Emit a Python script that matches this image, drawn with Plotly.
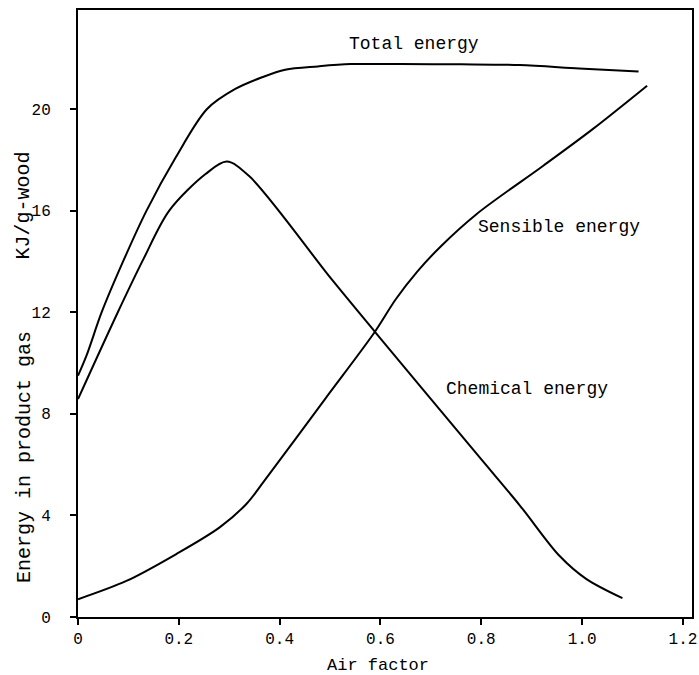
import plotly.graph_objects as go

# Data (air factor vs energy, KJ/g-wood)
total_x = [0.0, 0.017, 0.047, 0.089, 0.136, 0.194, 0.256, 0.312, 0.365, 0.411, 0.476, 0.541, 0.640, 0.760, 0.876, 0.994, 1.112]
total_y = [9.5, 10.3, 12.0, 13.98, 16.0, 18.1, 20.0, 20.79, 21.25, 21.55, 21.68, 21.77, 21.77, 21.76, 21.73, 21.6, 21.48]

chem_x = [0.0, 0.079, 0.13, 0.181, 0.253, 0.295, 0.339, 0.503, 0.589, 0.791, 0.877, 0.955, 1.008, 1.08]
chem_y = [8.58, 12.0, 14.1, 16.0, 17.44, 17.93, 17.37, 13.3, 11.23, 6.42, 4.38, 2.41, 1.5, 0.74]

sens_x = [0.0, 0.096, 0.195, 0.281, 0.334, 0.371, 0.49, 0.589, 0.63, 0.673, 0.72, 0.791, 0.923, 1.021, 1.129]
sens_y = [0.7, 1.42, 2.48, 3.53, 4.45, 5.4, 8.58, 11.23, 12.5, 13.6, 14.6, 15.87, 17.77, 19.21, 20.92]

x_ticks = [0, 0.2, 0.4, 0.6, 0.8, 1.0, 1.2]
x_ticktext = ["0", "0.2", "0.4", "0.6", "0.8", "1.0", "1.2"]
y_ticks = [0, 4, 8, 12, 16, 20]

labels = ["Total energy", "Sensible energy", "Chemical energy"]
label_x = [0.667, 0.955, 0.89]
label_y = [22.56, 15.34, 8.98]

FONT = "Liberation Mono, Courier New, monospace"

fig = go.Figure()
for xs, ys in [(total_x, total_y), (chem_x, chem_y), (sens_x, sens_y)]:
    fig.add_trace(go.Scatter(x=xs, y=ys, mode="lines",
                             line=dict(color="black", width=2, shape="spline", smoothing=0.9),
                             showlegend=False, hoverinfo="skip"))

for t, lx, ly in zip(labels, label_x, label_y):
    fig.add_annotation(x=lx, y=ly, text=t, showarrow=False,
                       font=dict(family=FONT, size=18, color="black"),
                       xanchor="center", yanchor="middle")

fig.add_annotation(xref="paper", x=0, xshift=-54, xanchor="center", yref="y", y=6.3,
                   text="Energy in product gas", textangle=-90, showarrow=False,
                   font=dict(family=FONT, size=20, color="black"))
fig.add_annotation(xref="paper", x=0, xshift=-54, xanchor="center", yref="y", y=16.2,
                   text="KJ/g-wood", textangle=-90, showarrow=False,
                   font=dict(family=FONT, size=20, color="black"))
fig.add_annotation(xref="x", x=0.595, yref="paper", y=0, yshift=-48,
                   text="Air factor", showarrow=False, yanchor="middle",
                   font=dict(family=FONT, size=17, color="black"))

fig.update_xaxes(range=[0, 1.218], tickvals=x_ticks, ticktext=x_ticktext,
                 ticks="outside", ticklen=6, tickwidth=2, tickcolor="black",
                 showline=True, linecolor="black", linewidth=2, mirror=True,
                 showgrid=False, zeroline=False, ticklabeloverflow="allow",
                 tickfont=dict(family=FONT, size=16, color="black"))
fig.update_yaxes(range=[0, 23.9], tickvals=y_ticks,
                 ticks="outside", ticklen=6, tickwidth=2, tickcolor="black",
                 showline=True, linecolor="black", linewidth=2, mirror=True,
                 showgrid=False, zeroline=False,
                 tickfont=dict(family=FONT, size=16, color="black"),
                 ticklabelstandoff=16)

fig.update_layout(width=699, height=675,
                  margin=dict(l=78, r=2, t=10, b=58),
                  plot_bgcolor="white", paper_bgcolor="white")

fig.write_html("out.html")
